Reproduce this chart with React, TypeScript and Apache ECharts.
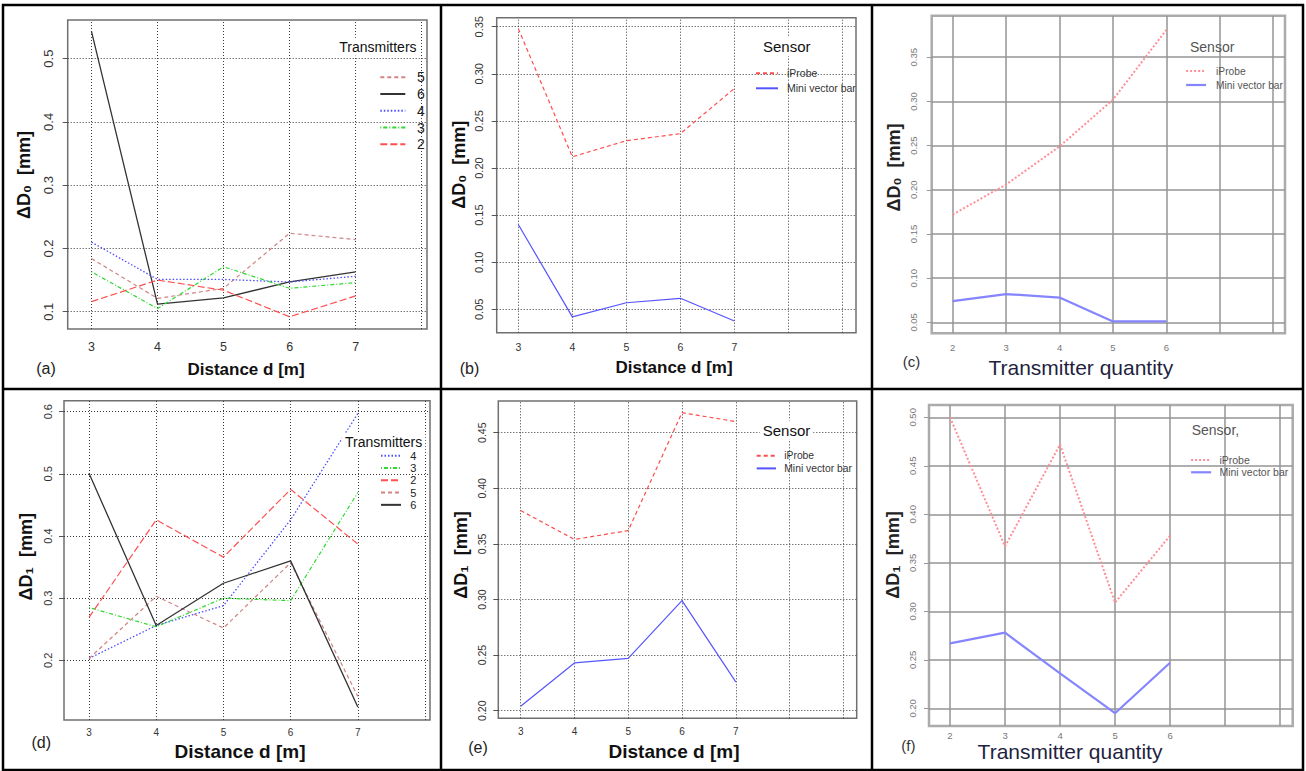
import React, { useEffect, useRef } from 'react';
import * as echarts from 'echarts';

// ---------- data ----------
const distanceX = [3, 4, 5, 6, 7];
const quantityX = [2, 3, 4, 5, 6];

// (a) ΔD0 vs distance, per transmitter count
const aNames = ['5', '6', '4', '3', '2'];
const a5 = [0.184, 0.121, 0.137, 0.224, 0.214];
const a6 = [0.543, 0.112, 0.122, 0.147, 0.163];
const a4 = [0.21, 0.151, 0.151, 0.147, 0.156];
const a3 = [0.163, 0.105, 0.171, 0.137, 0.146];
const a2 = [0.116, 0.15, 0.134, 0.092, 0.125];

// (b) ΔD0 vs distance, per sensor
const bIProbe = [0.348, 0.212, 0.229, 0.2365, 0.2845];
const bMini = [0.14, 0.042, 0.057, 0.0617, 0.0376];

// (c) ΔD0 vs transmitter quantity
const cIProbe = [0.172, 0.206, 0.249, 0.302, 0.381];
const cMini = [0.074, 0.082, 0.078, 0.051, 0.051];

// (d) ΔD1 vs distance, per transmitter count
const dNames = ['4', '3', '2', '5', '6'];
const d4 = [0.203, 0.256, 0.288, 0.426, 0.597];
const d3 = [0.285, 0.254, 0.3, 0.296, 0.47];
const d2 = [0.269, 0.426, 0.366, 0.475, 0.387];
const d5 = [0.203, 0.303, 0.252, 0.357, 0.142];
const d6 = [0.501, 0.256, 0.324, 0.36, 0.125];

// (e) ΔD1 vs distance, per sensor
const eIProbe = [0.38, 0.354, 0.362, 0.468, 0.46];
const eMini = [0.204, 0.243, 0.247, 0.299, 0.226];

// (f) ΔD1 vs transmitter quantity
const fIProbe = [0.5, 0.367, 0.472, 0.309, 0.378];
const fMini = [0.267, 0.278, 0.236, 0.195, 0.247];

const sensorNames = ['iProbe', 'Mini vector bar'];

// grid / tick values
const aGridX = [3, 4, 5, 6, 7, 8];
const aGridY = [0.1, 0.2, 0.3, 0.4, 0.5];
const bGridX = [3, 4, 5, 6, 7, 8, 9];
const bGridY = [0.05, 0.1, 0.15, 0.2, 0.25, 0.3, 0.35];
const cGridX = [2, 3, 4, 5, 6, 7, 8];
const cGridY = [0.05, 0.1, 0.15, 0.2, 0.25, 0.3, 0.35];
const dGridX = [3, 4, 5, 6, 7, 8];
const dGridY = [0.2, 0.3, 0.4, 0.5, 0.6];
const eGridX = [3, 4, 5, 6, 7, 8, 9];
const eGridY = [0.2, 0.25, 0.3, 0.35, 0.4, 0.45];
const fGridX = [2, 3, 4, 5, 6, 7, 8];
const fGridY = [0.2, 0.25, 0.3, 0.35, 0.4, 0.45, 0.5];

// ---------- styles ----------
const FONT = "'Liberation Sans', Arial, Helvetica, sans-serif";

const transStyle: Record<string, any> = {
  '5': { color: '#d08585', type: [4, 3], width: 1.2 },
  '6': { color: '#333333', type: 'solid', width: 1.3 },
  '4': { color: '#4d4dff', type: [1.5, 2], width: 1.3 },
  '3': { color: '#2fd92f', type: [1, 2, 4, 2], width: 1.2 },
  '2': { color: '#ff4f4f', type: [7, 3], width: 1.2 },
};
const sensorSharp: Record<string, any> = {
  iProbe: { color: '#ff4d4d', type: [4, 3], width: 1.2 },
  'Mini vector bar': { color: '#5555ff', type: 'solid', width: 1.2 },
};
const sensorBlur: Record<string, any> = {
  iProbe: { color: '#ff8f96', type: [2, 2], width: 2 },
  'Mini vector bar': { color: '#8585ff', type: 'solid', width: 2.2 },
};

const themes: Record<string, any> = {
  sharp: {
    grid: { color: '#3a3a3a', type: [1, 2], width: 1 },
    box: '#707070', boxW: 1.5, label: '#333', tick: '#555',
  },
  blur: {
    grid: { color: '#959595', type: 'solid', width: 1.5 },
    box: '#ababab', boxW: 2.5, label: '#777', tick: '#999',
  },
};

type Panel = {
  box: number[]; x: number[]; xr: number[]; yr: number[];
  gx: number[]; gy: number[]; dec: number; theme: string;
  xs: number; xm: number; ys: number; ym: number;
  lines: { name: string; values: number[]; style: any }[];
  legend: { left: number; top: number; w: number; pitch: number; pad: number; size: number; names: string[]; override?: Record<string, any>; color: string };
};

const panels: Panel[] = [
  {
    box: [67.7, 20, 359.3, 309], x: distanceX, xr: [2.64, 8.08], yr: [0.0727, 0.561],
    gx: aGridX, gy: aGridY, dec: 1, theme: 'sharp', xs: 12.5, xm: 11.5, ys: 13, ym: 13,
    lines: [
      { name: '5', values: a5, style: transStyle['5'] },
      { name: '6', values: a6, style: transStyle['6'] },
      { name: '4', values: a4, style: transStyle['4'] },
      { name: '3', values: a3, style: transStyle['3'] },
      { name: '2', values: a2, style: transStyle['2'] },
    ],
    legend: { left: 379.3, top: 68.9, w: 25, pitch: 16.75, pad: 6.7, size: 14, names: aNames, color: '#222' },
  },
  {
    box: [496.7, 17.7, 359.3, 315], x: distanceX, xr: [2.6, 9.25], yr: [0.0252, 0.3596],
    gx: bGridX, gy: bGridY, dec: 2, theme: 'sharp', xs: 10.5, xm: 8.5, ys: 11, ym: 12,
    lines: [
      { name: 'iProbe', values: bIProbe, style: sensorSharp.iProbe },
      { name: 'Mini vector bar', values: bMini, style: sensorSharp['Mini vector bar'] },
    ],
    legend: { left: 755, top: 65.8, w: 22, pitch: 15, pad: 4, size: 10.5, names: sensorNames, color: '#333' },
  },
  {
    box: [931.7, 15.7, 353.3, 317.6], x: quantityX, xr: [1.607, 8.22], yr: [0.0376, 0.397],
    gx: cGridX, gy: cGridY, dec: 2, theme: 'blur', xs: 9.5, xm: 9.5, ys: 9.5, ym: 13,
    lines: [
      { name: 'iProbe', values: cIProbe, style: sensorBlur.iProbe },
      { name: 'Mini vector bar', values: cMini, style: sensorBlur['Mini vector bar'] },
    ],
    legend: { left: 1185, top: 64, w: 20, pitch: 14, pad: 5, size: 10.2, names: sensorNames, override: sensorBlur, color: '#555' },
  },
  {
    box: [64, 400.7, 366, 319.3], x: distanceX, xr: [2.628, 8.074], yr: [0.104, 0.6177],
    gx: dGridX, gy: dGridY, dec: 1, theme: 'sharp', xs: 10, xm: 7.5, ys: 11, ym: 11,
    lines: [
      { name: '4', values: d4, style: transStyle['4'] },
      { name: '3', values: d3, style: transStyle['3'] },
      { name: '2', values: d2, style: transStyle['2'] },
      { name: '5', values: d5, style: transStyle['5'] },
      { name: '6', values: d6, style: transStyle['6'] },
    ],
    legend: { left: 380, top: 449.5, w: 20, pitch: 12.3, pad: 4.3, size: 11, names: dNames, color: '#222' },
  },
  {
    box: [498.3, 401, 358.4, 317.3], x: distanceX, xr: [2.584, 9.249], yr: [0.1932, 0.4785],
    gx: eGridX, gy: eGridY, dec: 2, theme: 'sharp', xs: 10, xm: 8, ys: 10.5, ym: 10.5,
    lines: [
      { name: 'iProbe', values: eIProbe, style: sensorSharp.iProbe },
      { name: 'Mini vector bar', values: eMini, style: sensorSharp['Mini vector bar'] },
    ],
    legend: { left: 755.7, top: 449.35, w: 19.3, pitch: 12.7, pad: 3.3, size: 10.3, names: sensorNames, color: '#333' },
  },
  {
    box: [929, 405, 363.7, 321], x: quantityX, xr: [1.618, 8.23], yr: [0.1818, 0.5127],
    gx: fGridX, gy: fGridY, dec: 2, theme: 'blur', xs: 9.5, xm: 4, ys: 9.5, ym: 12,
    lines: [
      { name: 'iProbe', values: fIProbe, style: sensorBlur.iProbe },
      { name: 'Mini vector bar', values: fMini, style: sensorBlur['Mini vector bar'] },
    ],
    legend: { left: 1190, top: 453.85, w: 20, pitch: 12.3, pad: 3.3, size: 10.5, names: sensorNames, override: sensorBlur, color: '#555' },
  },
];

// text labels (layout only)
const legendTitles = [
  { text: 'Transmitters', x: 339.3, y: 46.7, size: 14, color: '#111', bg: true },
  { text: 'Sensor', x: 763, y: 46.7, size: 15, color: '#111', bg: true },
  { text: 'Sensor', x: 1190, y: 46.7, size: 14, color: '#555', bg: false },
  { text: 'Transmitters', x: 345, y: 441.7, size: 14, color: '#111', bg: true },
  { text: 'Sensor', x: 762.7, y: 430, size: 15, color: '#111', bg: true },
  { text: 'Sensor,', x: 1191.7, y: 430, size: 14, color: '#555', bg: false },
];
const yTitles = [
  { text: 'ΔD₀  [mm]', x: 24.2, y: 175, color: '#111' },
  { text: 'ΔD₀  [mm]', x: 459.2, y: 164.7, color: '#111' },
  { text: 'ΔD₀  [mm]', x: 894, y: 167.5, color: '#222' },
  { text: 'ΔD₁  [mm]', x: 25.8, y: 556.8, color: '#111' },
  { text: 'ΔD₁  [mm]', x: 460.8, y: 555, color: '#111' },
  { text: 'ΔD₁  [mm]', x: 892.8, y: 555, color: '#222' },
];
const xTitles = [
  { text: 'Distance d [m]', x: 246, y: 369, size: 17, weight: 'bold', color: '#111' },
  { text: 'Distance d [m]', x: 674, y: 367, size: 17, weight: 'bold', color: '#111' },
  { text: 'Transmitter quantity', x: 1080.8, y: 367.5, size: 21, weight: 'normal', color: '#231f40' },
  { text: 'Distance d [m]', x: 240, y: 751, size: 19, weight: 'bold', color: '#111' },
  { text: 'Distance d [m]', x: 674, y: 751, size: 19, weight: 'bold', color: '#111' },
  { text: 'Transmitter quantity', x: 1070, y: 751.7, size: 21, weight: 'normal', color: '#231f40' },
];
const panelTags = [
  { text: '(a)', x: 46, y: 368.5, size: 16, color: '#222' },
  { text: '(b)', x: 469.5, y: 368.5, size: 16, color: '#222' },
  { text: '(c)', x: 911.5, y: 361, size: 15, color: '#333' },
  { text: '(d)', x: 41.3, y: 742.5, size: 16, color: '#222' },
  { text: '(e)', x: 478, y: 747.5, size: 16, color: '#222' },
  { text: '(f)', x: 908.3, y: 745, size: 15, color: '#333' },
];
const borderX = [3, 441, 872, 1303];
const borderY = [5, 389, 770];

function buildOption() {
  const grid = panels.map((p) => ({
    left: p.box[0], top: p.box[1], width: p.box[2], height: p.box[3],
    show: true, borderColor: themes[p.theme].box, borderWidth: themes[p.theme].boxW,
    backgroundColor: 'transparent',
  }));
  const xAxis = panels.map((p, i) => ({
    type: 'value', gridIndex: i, min: p.xr[0], max: p.xr[1],
    axisLine: { show: false }, axisTick: { show: false }, splitLine: { show: false },
    axisLabel: {
      customValues: p.x, margin: p.xm, fontSize: p.xs, fontFamily: FONT,
      color: themes[p.theme].label, formatter: (v: number) => String(Math.round(v)),
    },
  }));
  const yAxis = panels.map((p, i) => ({
    type: 'value', gridIndex: i, min: p.yr[0], max: p.yr[1],
    axisLine: { show: false }, splitLine: { show: false },
    axisTick: { show: true, customValues: p.gy, length: 5, lineStyle: { color: themes[p.theme].tick, width: 1 } },
    axisLabel: {
      customValues: p.gy, rotate: 90, margin: p.ym, fontSize: p.ys, fontFamily: FONT,
      color: themes[p.theme].label, formatter: (v: number) => v.toFixed(p.dec),
    },
  }));
  const series: any[] = [];
  panels.forEach((p, i) => {
    p.lines.forEach((ln, j) => {
      const s: any = {
        type: 'line', name: ln.name, xAxisIndex: i, yAxisIndex: i,
        data: p.x.map((x, k) => [x, ln.values[k]]),
        symbol: 'none', silent: true, z: 3,
        lineStyle: { color: ln.style.color, type: ln.style.type, width: ln.style.width },
        itemStyle: { color: ln.style.color },
        emphasis: { disabled: true },
      };
      if (j === 0) {
        s.markLine = {
          silent: true, symbol: ['none', 'none'], z: 1, animation: false,
          label: { show: false }, emphasis: { disabled: true },
          lineStyle: { ...themes[p.theme].grid },
          data: [...p.gx.map((v) => ({ xAxis: v })), ...p.gy.map((v) => ({ yAxis: v }))],
        };
      }
      series.push(s);
    });
  });
  const legend = panels.map((p) => ({
    left: p.legend.left, top: p.legend.top, orient: 'vertical', padding: 0,
    itemWidth: p.legend.w, itemHeight: p.legend.pitch, itemGap: 0, selectedMode: false,
    itemStyle: { opacity: 0, borderWidth: 0 },
    data: p.legend.names.map((n) =>
      p.legend.override
        ? {
            name: n,
            itemStyle: { opacity: 0, borderWidth: 0 },
            lineStyle: { color: p.legend.override[n].color, width: p.legend.override[n].width, type: p.legend.override[n].type },
          }
        : { name: n, itemStyle: { opacity: 0, borderWidth: 0 } }
    ),
    textStyle: {
      fontSize: p.legend.size, fontFamily: FONT, color: p.legend.color,
      lineHeight: p.legend.pitch, padding: [0, 0, 0, p.legend.pad],
    },
  }));

  const graphic: any[] = [];
  legendTitles.forEach((t) => {
    graphic.push({
      type: 'text', x: t.x - (t.bg ? 3 : 0), y: t.y, z: 100, silent: true,
      style: {
        text: t.text, fontSize: t.size, fontFamily: FONT, fill: t.color,
        textAlign: 'left', textVerticalAlign: 'middle',
        backgroundColor: t.bg ? '#ffffff' : 'transparent', padding: t.bg ? [2, 3] : 0,
      },
    });
  });
  yTitles.forEach((t) => {
    graphic.push({
      type: 'text', x: t.x, y: t.y, rotation: Math.PI / 2, z: 100, silent: true,
      style: {
        text: t.text, fontSize: 18, fontWeight: 'bold', fontFamily: FONT, fill: t.color,
        textAlign: 'center', textVerticalAlign: 'middle',
      },
    });
  });
  xTitles.forEach((t) => {
    graphic.push({
      type: 'text', x: t.x, y: t.y, z: 100, silent: true,
      style: {
        text: t.text, fontSize: t.size, fontWeight: t.weight, fontFamily: FONT, fill: t.color,
        textAlign: 'center', textVerticalAlign: 'middle',
      },
    });
  });
  panelTags.forEach((t) => {
    graphic.push({
      type: 'text', x: t.x, y: t.y, z: 100, silent: true,
      style: {
        text: t.text, fontSize: t.size, fontFamily: FONT, fill: t.color,
        textAlign: 'center', textVerticalAlign: 'middle',
      },
    });
  });
  borderX.forEach((x) => {
    graphic.push({
      type: 'line', z: 110, silent: true,
      shape: { x1: x, y1: borderY[0] - 1, x2: x, y2: borderY[borderY.length - 1] + 1 },
      style: { stroke: '#000', lineWidth: 2.5 },
    });
  });
  borderY.forEach((y) => {
    graphic.push({
      type: 'line', z: 110, silent: true,
      shape: { x1: borderX[0] - 1, y1: y, x2: borderX[borderX.length - 1] + 1, y2: y },
      style: { stroke: '#000', lineWidth: 2.5 },
    });
  });

  return {
    animation: false,
    backgroundColor: '#ffffff',
    textStyle: { fontFamily: FONT },
    grid, xAxis, yAxis, series, legend, graphic,
  };
}

export default function App() {
  const ref = useRef<HTMLDivElement>(null);
  useEffect(() => {
    document.body.style.margin = '0';
    const chart = echarts.init(ref.current as HTMLDivElement, null, { renderer: 'svg' });
    chart.setOption(buildOption() as any);
    return () => chart.dispose();
  }, []);
  return <div ref={ref} style={{ width: 1306, height: 771, background: '#fff' }} />;
}
